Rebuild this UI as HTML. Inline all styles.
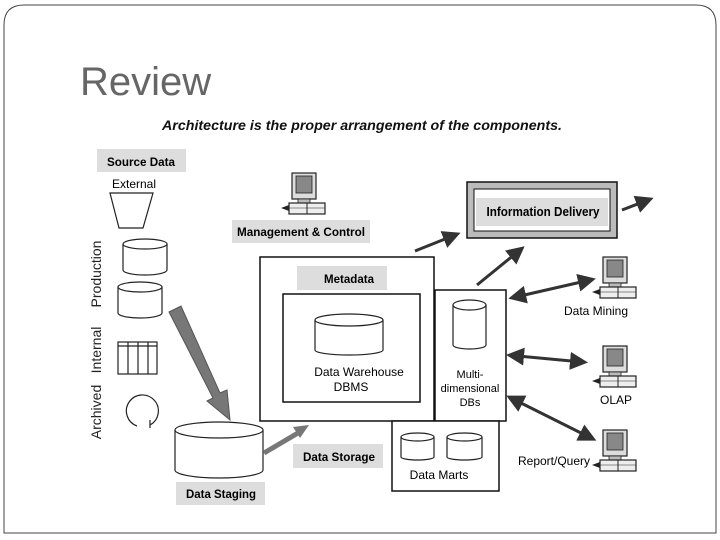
<!DOCTYPE html>
<html><head><meta charset="utf-8"><style>
html,body{margin:0;padding:0;background:#fff;}
svg{display:block;}
text{font-family:"Liberation Sans",sans-serif;}
</style></head><body>
<svg width="720" height="540" viewBox="0 0 720 540" xmlns="http://www.w3.org/2000/svg">
<defs>
<marker id="ah" markerWidth="6" markerHeight="6" refX="4" refY="3" orient="auto" markerUnits="strokeWidth"><path d="M0,0 L6,3 L0,6 z" fill="#333"/></marker>
<marker id="as" markerWidth="6" markerHeight="6" refX="2" refY="3" orient="auto-start-reverse" markerUnits="strokeWidth"><path d="M0,0 L6,3 L0,6 z" fill="#333"/></marker>
<g id="pc">
<rect x="6" y="0" width="24" height="26" fill="#ddd" stroke="#222" stroke-width="1.2"/>
<rect x="10" y="3" width="16" height="17" fill="#888" stroke="#222" stroke-width="0.8"/>
<rect x="12" y="26" width="12" height="4" fill="#bbb" stroke="#222" stroke-width="0.8"/>
<rect x="3" y="30" width="36" height="11" fill="#eee" stroke="#222" stroke-width="1.2"/>
<line x1="21" y1="30" x2="21" y2="41" stroke="#222"/><line x1="3" y1="35" x2="39" y2="35" stroke="#222" stroke-width="0.6"/>
<path d="M3,32 L-5,35 L3,38 z" fill="#222"/>
</g>
</defs>
<path d="M24,5 H696 Q716,5 716,25 V533 H4 V25 Q4,5 24,5 Z" fill="none" stroke="#444" stroke-width="1"/>
<text x="80" y="95" font-size="40" fill="#666">Review</text>
<text x="162" y="130" font-size="14" font-weight="bold" font-style="italic" fill="#111" textLength="400" lengthAdjust="spacingAndGlyphs">Architecture is the proper arrangement of the components.</text>

<!-- Left source -->
<rect x="97" y="149" width="89" height="23" fill="#ddd"/>
<text x="141" y="166" font-size="12" font-weight="bold" text-anchor="middle" textLength="68" lengthAdjust="spacingAndGlyphs">Source Data</text>
<text x="134" y="188" font-size="12" text-anchor="middle">External</text>
<path d="M110,193 H153 L143,228 H119 Z" fill="#fff" stroke="#222" stroke-width="1.2"/>
<g fill="#fff" stroke="#222" stroke-width="1.2">
<path d="M123,244 V270 A22,5 0 0 0 167,270 V244"/><ellipse cx="145" cy="244" rx="22" ry="5"/>
<path d="M118,287 V313 A22,5 0 0 0 162,313 V287"/><ellipse cx="140" cy="287" rx="22" ry="5"/>
<rect x="118" y="342" width="39" height="32"/>
<path d="M118,346 H157 M128,342 V374 M138,342 V374 M148,342 V374"/>
<path d="M150,425 A16,16 0 1 0 137,426" fill="none"/>
<path d="M150,420 V428" fill="none"/>
</g>
<text transform="translate(101,274) rotate(-90)" font-size="14" fill="#222" text-anchor="middle">Production</text>
<text transform="translate(101,350) rotate(-90)" font-size="14" fill="#222" text-anchor="middle">Internal</text>
<text transform="translate(101,412) rotate(-90)" font-size="14" fill="#222" text-anchor="middle">Archived</text>
<!-- big arrow -->
<path d="M169,312 L181,306 L220,393 L227,390 L230,420 L207,401 L213,398 Z" fill="#777" stroke="#555"/>
<!-- staging -->
<path d="M175,430 V470 A44,8 0 0 0 263,470 V430" fill="#fff" stroke="#222" stroke-width="1.2"/>
<ellipse cx="219" cy="430" rx="44" ry="8" fill="#fff" stroke="#222" stroke-width="1.2"/>
<rect x="176" y="482" width="89" height="23" fill="#ddd"/>
<text x="221" y="498" font-size="12" font-weight="bold" text-anchor="middle" textLength="70" lengthAdjust="spacingAndGlyphs">Data Staging</text>
<path d="M264,453 L298,433" stroke="#777" stroke-width="5"/><path d="M293,427 L309,425 L300,438 Z" fill="#777"/>

<!-- management -->
<use href="#pc" x="286" y="173"/>
<rect x="232" y="220" width="138" height="23" fill="#ddd"/>
<text x="301" y="236" font-size="12" font-weight="bold" text-anchor="middle" textLength="128" lengthAdjust="spacingAndGlyphs">Management &amp; Control</text>

<!-- main box -->
<rect x="260" y="257" width="174" height="164" fill="#fff" stroke="#111" stroke-width="1.5"/>
<rect x="297" y="266" width="90" height="24" fill="#ddd"/>
<text x="349" y="283" font-size="12" font-weight="bold" text-anchor="middle" textLength="50" lengthAdjust="spacingAndGlyphs">Metadata</text>
<rect x="283" y="294" width="137" height="108" fill="#fff" stroke="#111" stroke-width="1.5"/>
<path d="M315,320 V350 A34,5 0 0 0 383,350 V320" fill="#fff" stroke="#222" stroke-width="1.2"/>
<ellipse cx="349" cy="320" rx="34" ry="6" fill="#fff" stroke="#222" stroke-width="1.2"/>
<text x="359" y="376" font-size="12" text-anchor="middle">Data Warehouse</text>
<text x="351" y="391" font-size="12" text-anchor="middle">DBMS</text>
<rect x="435" y="290" width="71" height="131" fill="#fff" stroke="#111" stroke-width="1.5"/>
<path d="M453,305 V345 A16.5,4 0 0 0 486,345 V305" fill="#fff" stroke="#222" stroke-width="1.2"/>
<ellipse cx="469.5" cy="305" rx="16.5" ry="5" fill="#fff" stroke="#222" stroke-width="1.2"/>
<text x="470" y="378" font-size="11" text-anchor="middle">Multi-</text>
<text x="470" y="392" font-size="11" text-anchor="middle">dimensional</text>
<text x="470" y="406" font-size="11" text-anchor="middle">DBs</text>
<rect x="392" y="421" width="107" height="70" fill="#fff" stroke="#111" stroke-width="1.5"/>
<g fill="#fff" stroke="#222" stroke-width="1.2">
<path d="M401,437 V457 A16.5,3 0 0 0 434,457 V437"/><ellipse cx="417.5" cy="437" rx="16.5" ry="4"/>
<path d="M447,437 V457 A17.5,3 0 0 0 482,457 V437"/><ellipse cx="464.5" cy="437" rx="17.5" ry="4"/>
</g>
<text x="439" y="479" font-size="12" text-anchor="middle">Data Marts</text>
<rect x="293" y="444" width="90" height="24" fill="#ddd"/>
<text x="339" y="461" font-size="12" font-weight="bold" text-anchor="middle" textLength="72" lengthAdjust="spacingAndGlyphs">Data Storage</text>

<!-- info delivery -->
<rect x="467" y="182" width="150" height="56" fill="#bbb" stroke="#111" stroke-width="1.5"/>
<rect x="474" y="189" width="136" height="42" fill="#fff" stroke="#111" stroke-width="1"/>
<rect x="476" y="198" width="132" height="28" fill="#ddd"/>
<text x="543" y="216" font-size="13" font-weight="bold" text-anchor="middle" textLength="113" lengthAdjust="spacingAndGlyphs">Information Delivery</text>

<g stroke="#333" stroke-width="3" fill="none">
<line x1="415" y1="251" x2="455" y2="235" marker-end="url(#ah)"/>
<line x1="477" y1="285" x2="520" y2="250" marker-end="url(#ah)"/>
<line x1="622" y1="210" x2="648" y2="200" marker-end="url(#ah)"/>
<line x1="520" y1="296" x2="590" y2="280" marker-start="url(#as)" marker-end="url(#ah)"/>
<line x1="518" y1="356" x2="582" y2="362" marker-start="url(#as)" marker-end="url(#ah)"/>
<line x1="517" y1="401" x2="591" y2="438" marker-start="url(#as)" marker-end="url(#ah)"/>
</g>
<use href="#pc" x="597" y="257"/>
<text x="596" y="315" font-size="12" text-anchor="middle">Data Mining</text>
<use href="#pc" x="597" y="346"/>
<text x="616" y="404" font-size="12" text-anchor="middle">OLAP</text>
<use href="#pc" x="597" y="430"/>
<text x="554" y="465" font-size="12" text-anchor="middle">Report/Query</text>
</svg>
</body></html>
